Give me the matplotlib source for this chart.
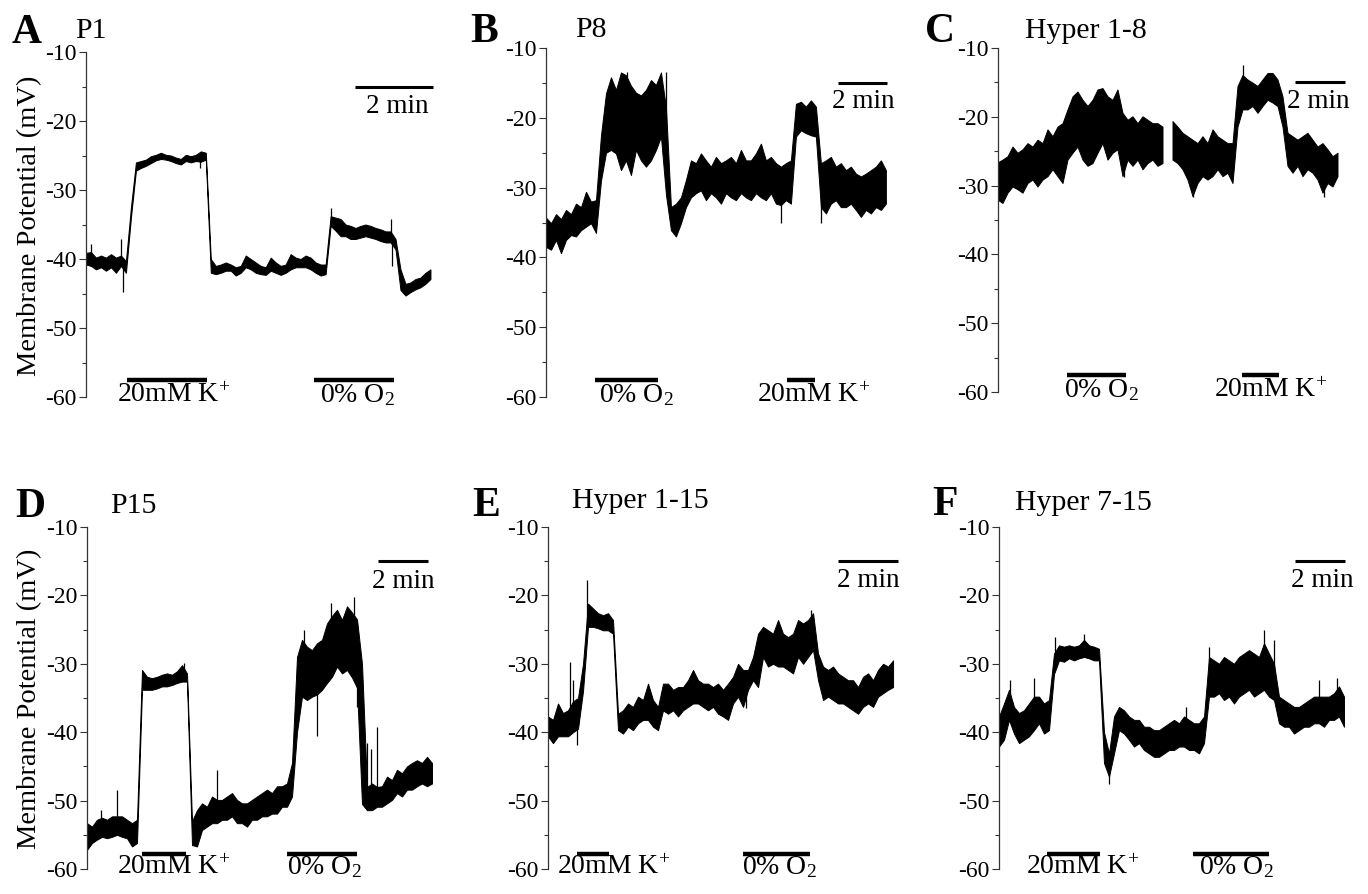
import numpy as np
import matplotlib
matplotlib.use('Agg')
import matplotlib.pyplot as plt

plt.rcParams['font.family'] = ['Liberation Serif', 'DejaVu Serif']
plt.rcParams['mathtext.fontset'] = 'custom'
plt.rcParams['mathtext.rm'] = 'Liberation Serif'
plt.rcParams['mathtext.it'] = 'Liberation Serif:italic'
plt.rcParams['axes.unicode_minus'] = False

nan = float('nan')

# y axis (mV)
yticks = [-60, -50, -40, -30, -20, -10]
ytick_labels = ['-60', '-50', '-40', '-30', '-20', '-10']
yminor = [-55, -45, -35, -25, -15]

letters = ['A', 'B', 'C', 'D', 'E', 'F']
titles = ['P1', 'P8', 'Hyper 1-8', 'P15', 'Hyper 1-15', 'Hyper 7-15']
k_label = '20mM K$^{\\!+}$'
o2_label = '0% O$_2$'

# sampling interval of the traces (min)
dts = [0.128, 0.204, 0.2, 0.2, 0.1667, 0.2]

# ---- A: P1 ----
p1_hi = [-39.1, -39.0, -39.8, -39.5, -39.8, -39.3, -39.8, -39.5, -40.3, -32.5,
         -26.0, -25.8, -25.6, -25.1, -24.9, -24.6, -24.9, -25.0, -25.3, -25.5,
         -24.9, -25.1, -24.9, -24.4, -24.6, -40.0, -41.0, -40.8, -40.5, -40.8,
         -41.2, -41.0, -39.5, -40.0, -40.5, -41.0, -41.2, -39.8, -40.5, -41.0,
         -40.8, -39.3, -39.8, -40.0, -39.5, -39.8, -40.5, -40.8, -40.8, -33.8,
         -34.0, -34.2, -35.0, -35.2, -35.5, -35.2, -35.0, -35.2, -35.5, -35.7,
         -36.0, -36.0, -37.1, -41.5, -43.6, -43.4, -42.9, -42.7, -42.0, -41.5]
p1_lo = [-40.8, -41.0, -41.5, -41.2, -41.7, -41.2, -42.0, -41.0, -42.0, -34.0,
         -27.2, -26.8, -26.5, -26.1, -25.7, -25.5, -25.6, -25.8, -26.1, -26.3,
         -25.8, -26.0, -25.8, -25.9, -25.6, -42.0, -42.2, -42.0, -41.7, -41.7,
         -42.4, -42.0, -41.2, -41.5, -42.0, -42.2, -42.3, -41.7, -42.0, -42.3,
         -42.0, -41.5, -41.2, -41.2, -41.2, -41.5, -42.0, -42.4, -42.2, -35.2,
         -35.9, -36.7, -36.7, -37.1, -37.1, -36.9, -36.7, -36.9, -37.1, -37.4,
         -37.6, -37.6, -38.6, -44.5, -45.3, -44.8, -44.4, -44.1, -43.6, -42.9]
p1_spike_t = [0.12, 0.905, 0.957, 2.92, 6.29, 7.82, 7.85]
p1_spike_v = [-37.8, -37.1, -44.8, -26.8, -32.6, -34.2, -41.0]
p1_k = [1.05, 3.10]
p1_o2 = [5.85, 7.90]

# ---- B: P8 ----
p8_hi = [-34.3, -35.1, -33.8, -34.5, -33.2, -33.8, -32.3, -32.8, -30.6, -32.0,
         -31.8, -22.5, -16.5, -14.2, -16.0, -13.5, -13.9, -15.4, -16.4, -16.8,
         -16.0, -14.6, -15.3, -13.5, -18.5, -32.8, -32.3, -31.4, -28.9, -26.1,
         -26.5, -25.1, -26.1, -27.0, -25.6, -26.5, -26.1, -25.6, -26.5, -24.6,
         -26.1, -26.1, -25.1, -23.7, -26.1, -25.6, -26.5, -27.0, -26.5, -26.1,
         -18.0, -17.7, -18.4, -17.5, -18.4, -26.5, -26.1, -25.6, -27.0, -26.5,
         -27.5, -27.0, -28.0, -28.4, -28.0, -27.5, -27.0, -26.1, -27.5]
p8_lo = [-38.5, -38.9, -37.5, -39.4, -37.5, -36.8, -37.0, -36.1, -35.6, -35.1,
         -36.5, -29.0, -25.0, -24.6, -25.1, -27.5, -26.1, -28.2, -24.6, -26.1,
         -27.0, -26.1, -24.6, -22.7, -31.0, -36.1, -37.0, -35.1, -32.8, -31.4,
         -30.8, -30.4, -31.8, -30.8, -31.4, -32.3, -30.8, -31.4, -31.8, -30.8,
         -31.4, -31.8, -30.8, -31.4, -31.8, -30.8, -32.3, -32.5, -31.8, -32.3,
         -22.7, -21.8, -22.2, -22.5, -22.7, -32.8, -33.7, -32.3, -31.8, -32.8,
         -32.8, -32.3, -33.2, -34.2, -33.2, -33.7, -32.8, -33.2, -32.3]
p8_spike_t = [3.32, 4.88, 9.58, 11.21]
p8_spike_v = [-13.4, -13.5, -35.1, -35.1]
p8_o2 = [2.0, 4.57]
p8_k = [9.84, 10.98]

# ---- C: Hyper 1-8 ----
h18_hi = [-26.7, -26.3, -25.8, -24.4, -25.3, -24.8, -23.9, -24.4, -23.4, -23.9,
          -21.9, -22.9, -21.5, -21.0, -19.0, -17.1, -16.4, -17.6, -18.5, -17.6,
          -16.1, -15.9, -17.1, -17.6, -16.1, -19.5, -20.5, -20.0, -21.0, -20.0,
          -20.5, -21.0, -21.0, -21.5, nan, -20.7, -21.5, -22.4, -22.9, -23.4,
          -23.9, -22.9, -23.9, -21.9, -22.9, -23.4, -23.9, -23.9, -15.6, -14.0,
          -14.65, -15.1, -15.6, -14.65, -13.7, -13.7, -14.65, -17.1, -22.4, -22.9,
          -23.4, -22.9, -22.4, -23.4, -24.4, -23.9, -24.8, -25.8, -25.3]
h18_lo = [-32.1, -32.6, -31.1, -30.2, -30.6, -31.1, -29.7, -29.2, -30.2, -29.2,
          -28.7, -27.7, -28.7, -29.7, -26.3, -25.3, -24.4, -26.3, -27.2, -26.8,
          -25.3, -23.9, -26.3, -25.3, -24.8, -28.7, -26.3, -27.2, -26.3, -27.7,
          -26.8, -26.3, -27.2, -26.8, nan, -26.3, -26.8, -27.7, -29.2, -31.6,
          -29.7, -28.7, -29.2, -28.7, -27.7, -28.7, -28.2, -29.7, -21.5, -19.0,
          -19.0, -18.5, -19.5, -18.5, -17.6, -18.0, -18.5, -21.5, -27.2, -28.2,
          -27.2, -28.7, -27.7, -28.2, -29.2, -31.1, -29.7, -30.2, -28.7]
h18_spike_t = [5.05, 7.79, 9.79, 13.05]
h18_spike_v = [-28.7, -31.6, -12.5, -31.6]
h18_o2 = [2.76, 5.12]
h18_k = [9.76, 11.24]

# ---- D: P15 ----
p15_hi = [-53.3, -53.8, -52.8, -52.5, -52.8, -52.3, -52.3, -52.3, -52.8, -53.3,
          -52.8, -30.9, -31.9, -32.1, -31.9, -31.6, -31.4, -31.6, -31.1, -30.2,
          -31.4, -53.0, -51.4, -50.4, -50.9, -49.4, -49.9, -49.9, -49.4, -48.9,
          -49.9, -50.4, -50.4, -49.9, -49.4, -48.9, -48.4, -48.9, -47.9, -47.9,
          -47.5, -44.5, -29.0, -26.5, -27.5, -28.0, -27.0, -26.5, -24.1, -23.0,
          -22.1, -23.6, -21.6, -22.5, -23.5, -30.0, -48.0, -47.5, -48.0, -47.9,
          -46.5, -47.0, -45.5, -46.0, -45.0, -44.5, -44.1, -44.5, -43.6, -44.5]
p15_lo = [-57.2, -56.2, -55.7, -55.3, -55.5, -55.3, -55.0, -55.3, -55.5, -56.7,
          -56.2, -33.8, -33.8, -33.8, -33.6, -33.3, -33.3, -33.1, -32.8, -32.6,
          -32.6, -56.5, -56.7, -54.3, -53.8, -53.3, -53.3, -52.8, -52.8, -52.3,
          -53.3, -53.3, -53.8, -52.8, -52.8, -52.3, -52.3, -51.9, -51.9, -50.9,
          -50.9, -49.4, -40.0, -34.8, -35.3, -34.8, -34.5, -33.8, -32.8, -31.9,
          -30.4, -31.4, -30.9, -32.0, -33.5, -50.5, -51.4, -51.4, -50.9, -50.9,
          -50.4, -49.9, -48.9, -49.4, -48.4, -48.4, -47.9, -47.5, -47.9, -47.5]
p15_spike_t = [0.55, 1.21, 3.88, 5.19, 8.68, 9.21, 9.75, 10.68, 10.81, 11.21, 11.37, 11.61]
p15_spike_v = [-51.4, -48.4, -29.9, -45.5, -25.0, -40.6, -21.1, -20.2, -36.3, -41.6, -42.5, -39.2]
p15_k = [2.2, 3.96]
p15_o2 = [8.0, 10.8]

# ---- E: Hyper 1-15 ----
h115_hi = [-37.7, -38.2, -35.8, -37.2, -36.8, -35.5, -35.0, -30.0, -21.2, -21.9,
           -22.6, -22.9, -22.6, -23.6, -37.3, -36.8, -35.8, -36.3, -34.8, -35.3,
           -32.9, -35.3, -36.3, -32.9, -32.9, -33.8, -33.4, -33.4, -32.4, -30.9,
           -32.4, -32.9, -32.9, -33.4, -32.9, -33.8, -32.9, -31.9, -30.0, -30.9,
           -30.9, -29.0, -25.6, -24.6, -25.1, -25.6, -23.6, -25.6, -26.1, -25.6,
           -23.6, -24.1, -23.6, -22.6, -28.5, -30.4, -30.9, -30.4, -31.4, -31.9,
           -32.4, -32.4, -33.4, -31.9, -31.4, -32.4, -30.9, -30.0, -30.4, -29.5]
h115_lo = [-40.6, -41.6, -40.6, -40.6, -40.6, -40.0, -39.5, -34.0, -24.6, -24.6,
           -24.8, -25.1, -25.1, -25.6, -39.7, -40.2, -39.2, -39.7, -38.7, -38.2,
           -38.2, -39.2, -39.7, -36.8, -37.3, -36.8, -37.7, -36.8, -36.3, -35.8,
           -35.8, -36.3, -36.8, -36.3, -37.3, -37.7, -38.2, -35.8, -34.8, -36.3,
           -33.8, -32.4, -33.4, -29.0, -30.4, -30.0, -30.4, -30.4, -30.9, -31.4,
           -29.0, -30.0, -29.0, -28.0, -32.4, -35.3, -34.8, -35.3, -35.8, -35.8,
           -36.3, -36.8, -37.3, -36.3, -35.8, -36.3, -34.8, -34.3, -33.8, -33.4]
h115_spike_t = [0.74, 0.82, 0.96, 1.30, 6.6, 8.78]
h115_spike_v = [-29.7, -32.4, -41.9, -17.8, -36.5, -22.2]
h115_k = [0.97, 2.03]
h115_o2 = [6.5, 8.73]

# ---- F: Hyper 7-15 ----
h715_hi = [-37.7, -35.8, -33.8, -36.3, -37.2, -36.8, -35.8, -34.8, -34.8, -35.8,
           -35.3, -28.5, -27.3, -27.5, -27.3, -27.5, -27.3, -26.5, -27.3, -27.5,
           -27.8, -40.0, -43.1, -37.7, -36.3, -36.8, -37.7, -38.2, -38.2, -39.2,
           -39.2, -39.7, -39.7, -39.2, -38.7, -38.2, -38.7, -37.7, -38.2, -38.7,
           -38.7, -37.7, -29.0, -29.5, -30.0, -29.0, -29.5, -30.0, -29.0, -28.5,
           -28.0, -28.5, -29.0, -27.0, -28.5, -30.0, -34.8, -35.3, -35.8, -36.3,
           -36.3, -35.8, -35.3, -34.8, -34.8, -34.8, -34.8, -34.3, -33.3, -34.8]
h715_lo = [-42.1, -41.1, -38.2, -40.2, -41.6, -41.1, -40.6, -39.7, -38.7, -40.2,
           -39.7, -31.5, -29.5, -29.7, -29.2, -29.5, -29.2, -29.0, -29.2, -29.5,
           -29.5, -44.5, -46.5, -43.1, -39.7, -40.2, -41.1, -42.1, -41.6, -42.6,
           -43.1, -43.6, -43.6, -43.1, -42.6, -42.6, -42.1, -42.1, -42.6, -42.6,
           -43.1, -41.6, -34.8, -34.8, -34.3, -35.3, -34.8, -35.8, -34.8, -34.3,
           -33.8, -34.8, -34.3, -33.8, -34.8, -35.3, -38.7, -39.2, -39.2, -40.2,
           -39.7, -39.2, -39.2, -38.7, -38.7, -39.2, -38.2, -38.2, -37.7, -39.2]
h715_spike_t = [0.45, 1.41, 2.25, 3.41, 4.41, 7.48, 8.39, 10.59, 10.99, 12.79, 13.52]
h715_spike_v = [-32.4, -32.1, -26.1, -25.6, -47.5, -36.3, -27.5, -25.1, -26.5, -32.4, -32.1]
h715_k = [1.92, 4.04]
h715_o2 = [7.76, 10.8]

# start of each 2 min scale bar (min)
scale_start = [6.90, 11.92, 11.88, 11.64, 9.67, 11.84]

his = [p1_hi, p8_hi, h18_hi, p15_hi, h115_hi, h715_hi]
los = [p1_lo, p8_lo, h18_lo, p15_lo, h115_lo, h715_lo]
spike_ts = [p1_spike_t, p8_spike_t, h18_spike_t, p15_spike_t, h115_spike_t, h715_spike_t]
spike_vs = [p1_spike_v, p8_spike_v, h18_spike_v, p15_spike_v, h115_spike_v, h715_spike_v]
k_bars = [p1_k, p8_k, h18_k, p15_k, h115_k, h715_k]
o2_bars = [p1_o2, p8_o2, h18_o2, p15_o2, h115_o2, h715_o2]

# ---- layout (pixels) ----
W, H = 1368, 894
# left, top(-10 mV), bottom(-60 mV), right, px per min
boxes = [(86, 52, 397, 440, 39.0), (546, 48, 397, 890, 24.5), (998, 48, 392, 1348, 25.0),
         (87, 527, 869, 436, 25.0), (548, 527, 869, 900, 30.0), (999, 527, 869, 1348, 25.0)]
letter_pos = [(12, 43), (470, 42), (925, 42), (15, 517), (472, 516), (932, 515)]
title_pos = [(75, 38), (575, 37), (1025, 38), (110, 513), (572, 508), (1015, 510)]
min_pos = [(397, 113), (863, 108), (1318, 108), (403, 588), (868, 587), (1322, 587)]
# left edge and baseline of the stimulus labels
k_text_pos = [(117, 402), (757, 402), (1214, 397), (117, 874), (557, 874), (1026, 874)]
o2_text_pos = [(320, 402), (599, 402), (1064, 397), (287, 874), (742, 874), (1199, 874)]

fig = plt.figure(figsize=(W / 100, H / 100), dpi=100)


def fx(px):
    return px / W


def fy(py):
    return 1 - py / H


for i in range(6):
    left, top, bottom, right, ppm = boxes[i]
    ax = fig.add_axes([fx(left), fy(bottom), (right - left) / W, (bottom - top) / H])
    ax.patch.set_visible(False)

    hi = np.array(his[i], dtype=float)
    lo = np.array(los[i], dtype=float)
    t = np.arange(len(hi)) * dts[i]
    ax.fill_between(t, lo, hi, facecolor='black', edgecolor='black', lw=0.7)

    base = np.interp(spike_ts[i], t, (hi + lo) / 2)
    ax.vlines(spike_ts[i], base, spike_vs[i], color='black', lw=0.9)

    ax.set_xlim(0, (right - left) / ppm)
    ax.set_ylim(-60, -10)
    for s in ['top', 'right', 'bottom']:
        ax.spines[s].set_visible(False)
    ax.spines['left'].set_color('#333333')
    ax.spines['left'].set_linewidth(0.9)
    ax.set_xticks([])
    ax.set_yticks(yticks)
    ax.set_yticklabels(ytick_labels)
    ax.set_yticks(yminor, minor=True)
    ax.tick_params(axis='y', which='major', length=5, width=0.8, direction='out',
                   labelsize=17, pad=1.5, color='#333333')
    ax.tick_params(axis='y', which='minor', length=3, width=0.8, direction='out',
                   color='#333333')

    row_bar = -57.5 if i < 3 else -57.8
    for t0, t1 in [k_bars[i], o2_bars[i]]:
        ax.plot([t0, t1], [row_bar, row_bar], color='black', lw=3.2,
                solid_capstyle='butt', clip_on=False)

    kx, ky = k_text_pos[i]
    fig.text(fx(kx), fy(ky), k_label, fontsize=20, ha='left', va='baseline')
    ox, oy = o2_text_pos[i]
    fig.text(fx(ox), fy(oy), o2_label, fontsize=20, ha='left', va='baseline')

    s0 = scale_start[i]
    ax.plot([s0, s0 + 2], [-15, -15], color='black', lw=2.2, solid_capstyle='butt',
            clip_on=False)

    lx, ly = letter_pos[i]
    fig.text(fx(lx), fy(ly), letters[i], fontsize=30, fontweight='bold',
             ha='left', va='baseline')
    tx, ty = title_pos[i]
    fig.text(fx(tx), fy(ty), titles[i], fontsize=21.5, ha='left', va='baseline')
    mx, my = min_pos[i]
    fig.text(fx(mx), fy(my), '2 min', fontsize=19.5, ha='center', va='baseline')

fig.text(fx(30), fy(226), 'Membrane Potential (mV)', fontsize=20.5, rotation=90,
         ha='center', va='center')
fig.text(fx(30), fy(699), 'Membrane Potential (mV)', fontsize=20.5, rotation=90,
         ha='center', va='center')

fig.savefig('out.png', dpi=100)
